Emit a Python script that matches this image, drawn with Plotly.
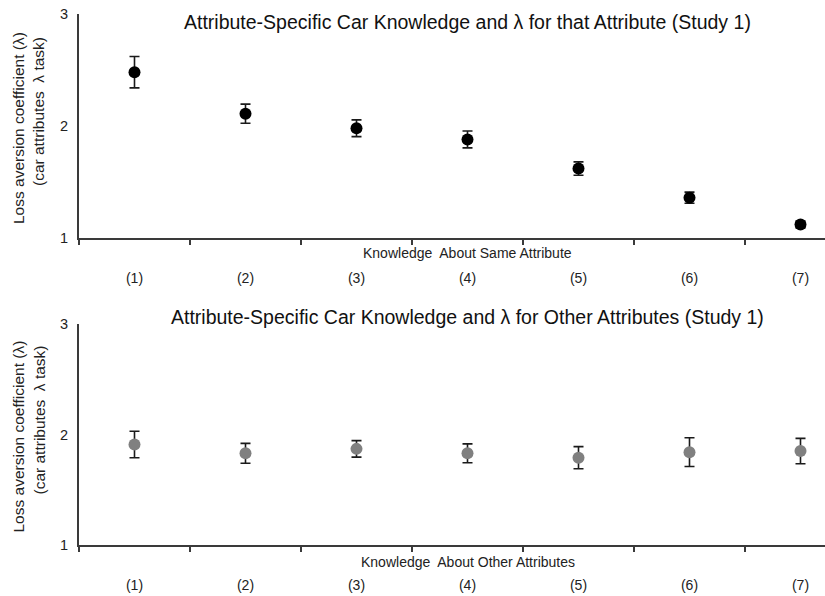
import plotly.graph_objects as go

categories = ["(1)", "(2)", "(3)", "(4)", "(5)", "(6)", "(7)"]

same_values = [2.48, 2.11, 1.98, 1.88, 1.62, 1.36, 1.12]
same_errors = [0.14, 0.085, 0.075, 0.075, 0.06, 0.05, 0.03]

other_values = [1.91, 1.83, 1.87, 1.83, 1.79, 1.84, 1.85]
other_errors = [0.12, 0.09, 0.075, 0.085, 0.10, 0.13, 0.115]

titles = [
    "Attribute-Specific Car Knowledge and λ for that Attribute (Study 1)",
    "Attribute-Specific Car Knowledge and λ for Other Attributes (Study 1)",
]
x_titles = ["Knowledge  About Same Attribute", "Knowledge  About Other Attributes"]
y_title_1 = "Loss aversion coefficient (λ)"
y_title_2 = "(car attributes  λ task)"
y_ticks = [1, 2, 3]

W, H = 825, 596
FONT = "Liberation Sans, Arial, sans-serif"
AX = "#3a3a3a"

# pixel geometry of plot areas (top, bottom)
x_left = 79
panels = [(14, 238), (324, 545)]

fig = go.Figure()

fig.add_trace(go.Scatter(
    x=categories, y=same_values, mode="markers",
    marker=dict(color="black", size=12),
    error_y=dict(type="data", array=same_errors, color="#1a1a1a", thickness=1.6, width=5),
    xaxis="x", yaxis="y", showlegend=False,
))
fig.add_trace(go.Scatter(
    x=categories, y=other_values, mode="markers",
    marker=dict(color="#808080", size=12),
    error_y=dict(type="data", array=other_errors, color="#1a1a1a", thickness=1.6, width=5),
    xaxis="x2", yaxis="y2", showlegend=False,
))

def ydom(top, bot):
    return [1 - bot / H, 1 - top / H]

xdom = [x_left / W, 1]
cat_w = 111.0
xr = [-0.5, -0.5 + (W - x_left) / cat_w]

axis_common_x = dict(
    type="category", domain=xdom, range=xr, tickson="boundaries",
    showline=True, linecolor=AX, linewidth=2, ticks="outside", ticklen=5,
    tickcolor=AX, tickwidth=1.5, showgrid=False, zeroline=False, automargin=False,
    tickfont=dict(family=FONT, size=14, color="#222"), ticklabelstandoff=26,
)
axis_common_y = dict(
    range=[1, 3], tickvals=y_ticks, showline=True, linecolor=AX, linewidth=2,
    ticks="", showgrid=False, zeroline=False, ticklabelstandoff=6, automargin=False,
    tickfont=dict(family=FONT, size=14.5, color="#222"),
)

fig.update_layout(
    width=W, height=H, margin=dict(l=0, r=0, t=0, b=0, pad=0, autoexpand=False),
    plot_bgcolor="white", paper_bgcolor="white", showlegend=False,
    xaxis=dict(axis_common_x, anchor="y"),
    yaxis=dict(axis_common_y, domain=ydom(*panels[0]), anchor="x"),
    xaxis2=dict(axis_common_x, anchor="y2"),
    yaxis2=dict(axis_common_y, domain=ydom(*panels[1]), anchor="x2"),
)

annotations = []
title_y = [22, 317]
xtitle_y = [253, 562]
x_center = (x_left + x_left + 7 * cat_w) / 2
for i, (top, bot) in enumerate(panels):
    annotations.append(dict(
        text=titles[i], xref="paper", yref="paper", x=x_center / W, y=1 - title_y[i] / H,
        xanchor="center", yanchor="middle", showarrow=False,
        font=dict(family=FONT, size=19.5, color="#111"),
    ))
    annotations.append(dict(
        text=x_titles[i], xref="paper", yref="paper", x=x_center / W, y=1 - xtitle_y[i] / H,
        xanchor="center", yanchor="middle", showarrow=False,
        font=dict(family=FONT, size=14, color="#222"),
    ))
    mid = (top + bot) / 2
    annotations.append(dict(
        text=y_title_1, xref="paper", yref="paper", x=18 / W, y=1 - (mid + 2) / H,
        xanchor="center", yanchor="middle", showarrow=False, textangle=-90,
        font=dict(family=FONT, size=15.5, color="#222"),
    ))
    annotations.append(dict(
        text=y_title_2, xref="paper", yref="paper", x=39 / W, y=1 - (mid - 14) / H,
        xanchor="center", yanchor="middle", showarrow=False, textangle=-90,
        font=dict(family=FONT, size=15.5, color="#222"),
    ))
fig.update_layout(annotations=annotations)

fig.write_html("out.html", config={"displayModeBar": False},
               post_script="document.body.style.margin='0';")
